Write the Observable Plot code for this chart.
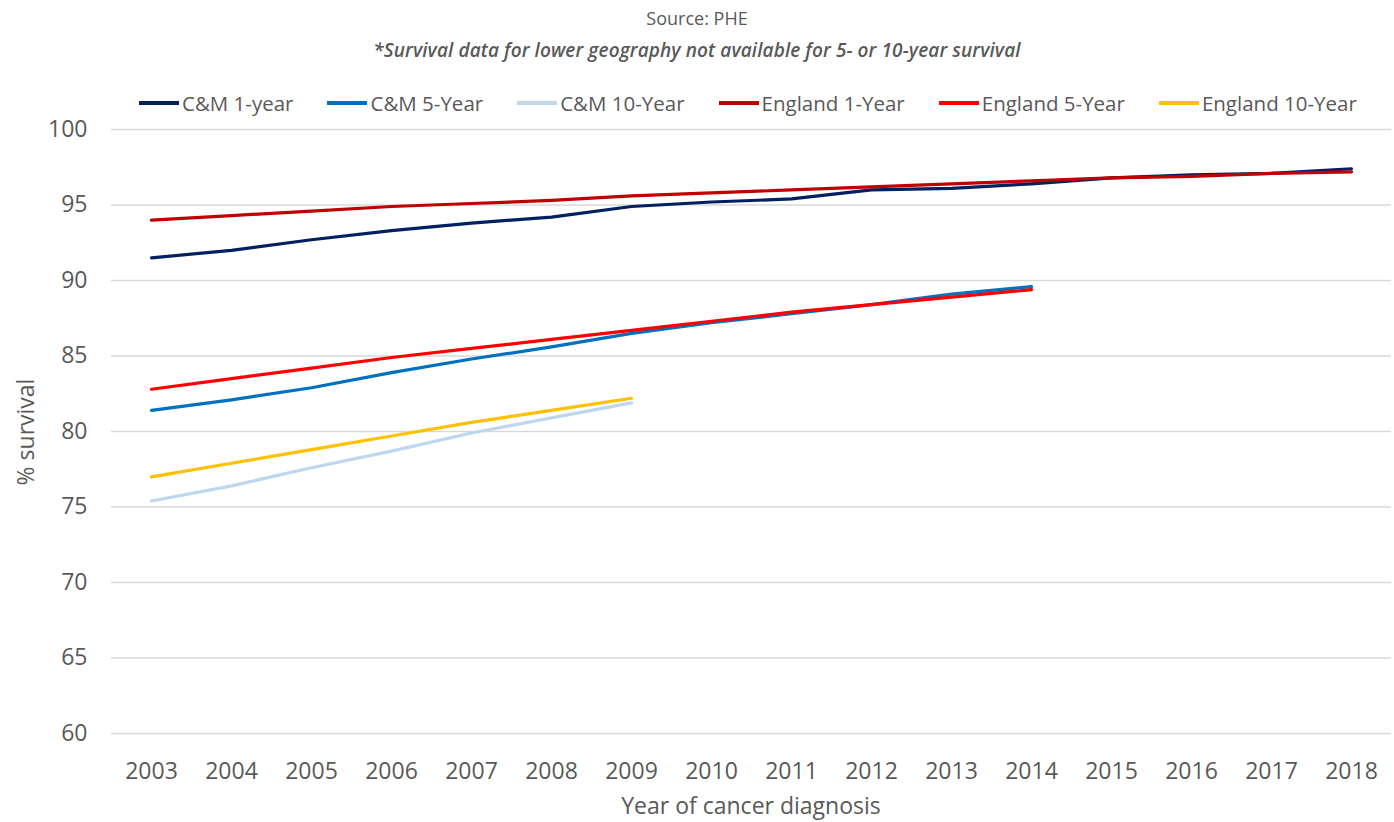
<!DOCTYPE html>
<html>
<head>
<meta charset="utf-8">
<script src="https://cdn.jsdelivr.net/npm/d3@7"></script>
<script src="https://cdn.jsdelivr.net/npm/@observablehq/plot@0.6"></script>
<style>
  html, body { margin: 0; padding: 0; background: #fff; }
  #wrap { position: relative; width: 1394px; height: 822px; font-family: "Open Sans", sans-serif; color: #595959; overflow: hidden; }
  .title { position: absolute; left: 0; width: 1394px; text-align: center; top: 5px; font-size: 18px; line-height: 26px; }
  .subtitle { position: absolute; left: 0; width: 1394px; text-align: center; top: 37px; font-size: 19px; line-height: 26px; font-style: italic; font-weight: 600; letter-spacing: 0.1px; }
  .legend { position: absolute; left: 139px; top: 89px; display: flex; align-items: center; white-space: nowrap; font-size: 20.5px; line-height: 28px; }
  .legend .item { display: flex; align-items: center; margin-right: 34px; }
  .legend .swatch { width: 40px; height: 3.5px; margin-right: 3px; }
  #chart { position: absolute; left: 0; top: 119px; }
  .ytitle { position: absolute; left: 25px; top: 432px; transform: translate(-50%, -50%) rotate(-90deg); font-size: 23px; white-space: nowrap; }
  .xtitle { position: absolute; left: 111px; width: 1280px; text-align: center; top: 789px; font-size: 23px; line-height: 32px; }
</style>
</head>
<body>
<div id="wrap">
  <div class="title">Source: PHE</div>
  <div class="subtitle">*Survival data for lower geography not available for 5- or 10-year survival</div>
  <div class="legend" id="legend"></div>
  <div id="chart"></div>
  <div class="ytitle">% survival</div>
  <div class="xtitle">Year of cancer diagnosis</div>
</div>
<script>
// Year of diagnosis
const years = ["2003","2004","2005","2006","2007","2008","2009","2010","2011","2012","2013","2014","2015","2016","2017","2018"];

// Survival (%) by year of diagnosis
const cm1Year  = [91.5, 92.0, 92.7, 93.3, 93.8, 94.2, 94.9, 95.2, 95.4, 96.0, 96.1, 96.4, 96.8, 97.0, 97.1, 97.4];
const cm5Year  = [81.4, 82.1, 82.9, 83.9, 84.8, 85.6, 86.5, 87.2, 87.8, 88.4, 89.1, 89.6];
const cm10Year = [75.4, 76.4, 77.6, 78.7, 79.9, 80.9, 81.9];
const eng1Year  = [94.0, 94.3, 94.6, 94.9, 95.1, 95.3, 95.6, 95.8, 96.0, 96.2, 96.4, 96.6, 96.8, 96.9, 97.1, 97.2];
const eng5Year  = [82.8, 83.5, 84.2, 84.9, 85.5, 86.1, 86.7, 87.3, 87.9, 88.4, 88.9, 89.4];
const eng10Year = [77.0, 77.9, 78.8, 79.7, 80.6, 81.4, 82.2];

const seriesNames = ["C&M 1-year", "C&M 5-Year", "C&M 10-Year", "England 1-Year", "England 5-Year", "England 10-Year"];
const seriesColors = ["#002060", "#0070C0", "#BDD7EE", "#C00000", "#FF0000", "#FFC000"];
const seriesValues = [cm1Year, cm5Year, cm10Year, eng1Year, eng5Year, eng10Year];

const yTicks = [60, 65, 70, 75, 80, 85, 90, 95, 100];

// Long-format rows for the line marks
const rows = seriesNames.flatMap((name, i) =>
  seriesValues[i].map((v, j) => ({series: name, year: years[j], value: v}))
);

const chart = Plot.plot({
  width: 1394,
  height: 703,
  marginLeft: 111,
  marginRight: 3,
  marginTop: 10,
  marginBottom: 89,
  style: {fontFamily: "'Open Sans', sans-serif", fontSize: "23px", color: "#595959", background: "#fff", overflow: "visible"},
  x: {type: "point", domain: years, padding: 0.5, label: null, tickSize: 0, tickPadding: 29},
  y: {domain: [60, 100], ticks: yTicks, label: null, tickSize: 0, tickPadding: 24},
  color: {domain: seriesNames, range: seriesColors},
  marks: [
    Plot.gridY(yTicks, {stroke: "#d9d9d9", strokeOpacity: 1, strokeWidth: 1.4}),
    Plot.lineY(rows, {x: "year", y: "value", z: "series", stroke: "series", strokeWidth: 3.2, strokeLinecap: "round", strokeLinejoin: "round"})
  ]
});
document.getElementById("chart").appendChild(chart);

// Legend
const legend = document.getElementById("legend");
seriesNames.forEach((name, i) => {
  const item = document.createElement("div");
  item.className = "item";
  const sw = document.createElement("div");
  sw.className = "swatch";
  sw.style.background = seriesColors[i];
  const label = document.createElement("span");
  label.textContent = name;
  item.appendChild(sw);
  item.appendChild(label);
  legend.appendChild(item);
});
</script>
</body>
</html>
